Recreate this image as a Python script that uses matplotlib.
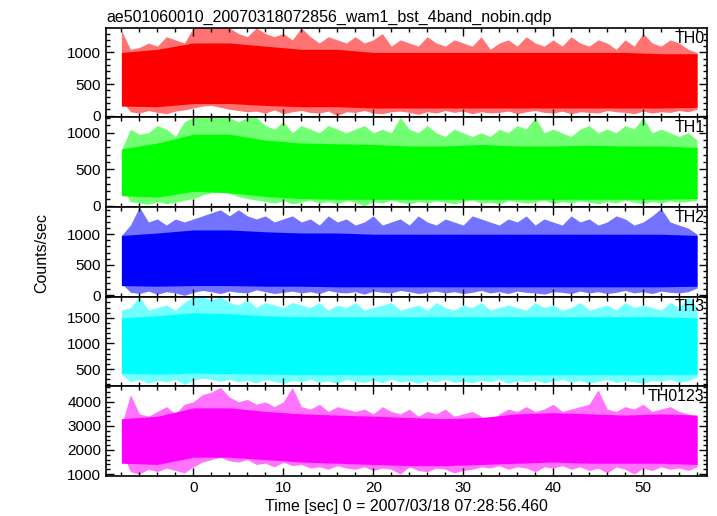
import numpy as np
import matplotlib
matplotlib.use("Agg")
import matplotlib.pyplot as plt
from matplotlib.ticker import MultipleLocator

plt.rcParams['font.family'] = ['Liberation Sans', 'DejaVu Sans']

title = "ae501060010_20070318072856_wam1_bst_4band_nobin.qdp"
xlabel = "Time [sec] 0 = 2007/03/18 07:28:56.460"
ylabel = "Counts/sec"

# 1 s envelope of the light curves (t = -8 ... 56)
t = np.arange(-8, 57, 1)
# 4 s grid for the dense core of each curve
tc = np.arange(-8, 57, 4)

th0_hi = [1350, 1050, 1080, 1150, 1100, 1250, 1200, 1150, 1390, 1390,
          1390, 1390, 1390, 1300, 1250, 1390, 1300, 1250, 1300, 1200,
          1390, 1250, 1150, 1250, 1200, 1150, 1250, 1150, 1200, 1300,
          1100, 1200, 1150, 1100, 1250, 1150, 1100, 1200, 1150, 1100,
          1250, 1050, 1150, 1200, 1100, 1250, 1150, 1100, 1200, 1100,
          1250, 1150, 1100, 1200, 1150, 1050, 1200, 1100, 1300, 1150,
          1100, 1200, 1150, 1050, 1000]
th0_lo = [250, 60, 40, 80, 50, 30, 70, 90, 120, 150,
          160, 130, 100, 80, 60, 70, 40, 90, 30, 60,
          80, 50, 40, 70, 0, 60, 50, 80, 40, 30,
          60, 70, 50, 20, 60, 40, 80, 50, 70, 30,
          60, 40, 50, 70, 30, 60, 80, 50, 40, 70,
          30, 60, 50, 40, 80, 60, 50, 30, 70, 40,
          60, 50, 80, 60, 100]
th0_core_hi = [1000, 1050, 1150, 1150, 1100, 1050, 1050, 1000, 1000, 1000, 1000, 1000, 1000, 1000, 1000, 980, 980]
th0_core_lo = [150, 140, 190, 190, 160, 140, 140, 120, 120, 120, 120, 120, 120, 120, 120, 120, 130]

th1_hi = [760, 1050, 980, 1000, 1100, 1050, 950, 1150, 1210, 1210,
          1210, 1210, 1210, 1150, 1210, 1210, 1100, 1050, 1150, 1000,
          1100, 1050, 1000, 1100, 1050, 1000, 1050, 1100, 1000, 1050,
          1000, 1210, 1050, 1000, 1100, 1000, 950, 1050, 1000, 950,
          1000, 950, 1050, 1000, 1100, 1050, 1210, 1000, 1050, 1000,
          950, 1050, 1100, 1000, 1050, 1000, 1100, 1050, 1210, 1000,
          1050, 1000, 950, 1000, 900]
th1_lo = [260, 60, 40, 20, 60, 30, 50, 80, 100, 150,
          180, 200, 170, 130, 100, 80, 60, 40, 70, 30,
          50, 80, 40, 60, 30, 70, 50, 0, 60, 40,
          80, 50, 30, 60, 40, 70, 50, 30, 60, 80,
          40, 50, 30, 70, 60, 40, 50, 80, 30, 60,
          40, 70, 50, 30, 60, 40, 80, 50, 30, 60,
          40, 70, 50, 60, 80]
th1_core_hi = [780, 860, 980, 980, 900, 860, 850, 840, 820, 820, 840, 820, 820, 830, 820, 820, 800]
th1_core_lo = [140, 120, 200, 180, 130, 100, 90, 90, 90, 90, 90, 90, 90, 90, 90, 90, 100]

th2_hi = [980, 1150, 1445, 1200, 1250, 1150, 1250, 1200, 1250, 1300,
          1350, 1400, 1300, 1400, 1300, 1250, 1300, 1200, 1250, 1300,
          1200, 1250, 1150, 1300, 1200, 1250, 1150, 1200, 1300, 1150,
          1200, 1250, 1150, 1300, 1200, 1150, 1250, 1200, 1150, 1300,
          1250, 1200, 1150, 1250, 1200, 1300, 1150, 1250, 1200, 1150,
          1300, 1200, 1250, 1150, 1200, 1300, 1250, 1150, 1200, 1300,
          1420, 1200, 1150, 1100, 1000]
th2_lo = [200, 50, 30, 70, 20, 60, 40, 0, 50, 80,
          60, 30, 70, 50, 40, 90, 60, 30, 50, 70,
          40, 60, 30, 80, 50, 40, 60, 20, 70, 50,
          40, 80, 60, 30, 50, 70, 40, 60, 30, 50,
          80, 40, 60, 30, 70, 50, 40, 20, 60, 50,
          30, 70, 40, 60, 30, 50, 80, 40, 60, 30,
          70, 50, 40, 60, 120]
th2_core_hi = [980, 1020, 1070, 1070, 1040, 1020, 1020, 1000, 1000, 1000, 1000, 1000, 1000, 1000, 1000, 1000, 980]
th2_core_lo = [160, 150, 160, 160, 150, 150, 140, 140, 140, 140, 140, 140, 140, 140, 140, 140, 150]

th3_hi = [1650, 1700, 1915, 1650, 1700, 1750, 1650, 1800, 1915, 1915,
          1850, 1915, 1800, 1750, 1850, 1700, 1800, 1750, 1700, 1800,
          1750, 1700, 1800, 1650, 1750, 1700, 1800, 1650, 1700, 1750,
          1800, 1650, 1700, 1750, 1650, 1800, 1700, 1650, 1750, 1700,
          1800, 1650, 1700, 1750, 1700, 1650, 1800, 1700, 1750, 1650,
          1700, 1800, 1650, 1700, 1750, 1650, 1800, 1700, 1750, 1700,
          1650, 1800, 1700, 1915, 1700]
th3_lo = [400, 250, 300, 220, 280, 250, 300, 200, 280, 320,
          300, 260, 300, 250, 280, 230, 300, 260, 220, 280,
          250, 300, 240, 270, 220, 300, 260, 240, 280, 230,
          300, 250, 270, 220, 280, 250, 300, 240, 260, 230,
          280, 250, 300, 220, 270, 250, 290, 230, 260, 300,
          240, 280, 220, 260, 300, 240, 270, 250, 220, 280,
          260, 300, 240, 270, 350]
th3_core_hi = [1500, 1540, 1600, 1580, 1540, 1520, 1520, 1520, 1520, 1520, 1520, 1520, 1520, 1520, 1520, 1520, 1500]
th3_core_lo = [420, 400, 420, 410, 400, 390, 390, 390, 390, 390, 390, 390, 390, 390, 390, 390, 400]

all_hi = [3000, 4300, 3500, 3400, 3600, 3800, 3500, 3900, 4000, 4300,
          4400, 4600, 4200, 4000, 4100, 3900, 4000, 3800, 4000, 4600,
          3800, 3700, 3900, 3600, 3800, 3700, 3600, 3700, 3500, 3800,
          3600, 3500, 3700, 3400, 3600, 3500, 3700, 3400, 3500, 3600,
          3400, 3000, 3500, 3700, 3600, 3800, 3600, 3700, 3900, 3600,
          3700, 3800, 3900, 4500, 3700, 3600, 3800, 3700, 3900, 3600,
          3700, 3800, 3600, 3500, 3400]
all_lo = [2000, 1100, 1000, 1200, 1100, 1250, 1150, 1050, 1300, 1500,
          1600, 1700, 1550, 1500, 1600, 1400, 1450, 1300, 1500, 1350,
          1400, 1250, 1300, 1200, 1350, 1250, 1200, 1300, 1150, 1250,
          1200, 1000, 1300, 1150, 1100, 1250, 1200, 1050, 1150, 1200,
          1300, 1250, 1350, 1200, 1300, 1250, 1100, 1300, 1250, 1350,
          1200, 1300, 1150, 1250, 1050, 1300, 1200, 1000, 1250, 1150,
          1300, 1200, 1250, 1150, 1300]
all_core_hi = [3300, 3400, 3750, 3750, 3600, 3500, 3450, 3400, 3350, 3300, 3350, 3500, 3550, 3500, 3450, 3500, 3450]
all_core_lo = [1450, 1400, 1700, 1700, 1600, 1500, 1450, 1400, 1350, 1350, 1400, 1450, 1500, 1450, 1450, 1450, 1400]

names = ["TH0", "TH1", "TH2", "TH3", "TH0123"]
colors = ["#ff0000", "#00ff00", "#0000ff", "#00ffff", "#ff00ff"]
his = [th0_hi, th1_hi, th2_hi, th3_hi, all_hi]
los = [th0_lo, th1_lo, th2_lo, th3_lo, all_lo]
core_his = [th0_core_hi, th1_core_hi, th2_core_hi, th3_core_hi, all_core_hi]
core_los = [th0_core_lo, th1_core_lo, th2_core_lo, th3_core_lo, all_core_lo]
ylims = [(-30, 1390), (-15, 1210), (-20, 1445), (165, 1915), (930, 4650)]
ymajor = [500, 500, 500, 500, 1000]
yminor = [100, 100, 100, 100, 200]


def main():
    fig, axes = plt.subplots(5, 1, sharex=True, figsize=(7.17, 5.16), dpi=100)
    fig.subplots_adjust(left=0.148, right=0.986, top=0.946, bottom=0.078, hspace=0)

    for i, ax in enumerate(axes):
        ax.fill_between(t, los[i], his[i], color=colors[i], alpha=0.55, lw=0)
        ax.fill_between(tc, core_los[i], core_his[i], color=colors[i], lw=0)
        ax.set_ylim(*ylims[i])
        ax.set_xlim(-9.7, 57.1)
        ax.yaxis.set_major_locator(MultipleLocator(ymajor[i]))
        ax.yaxis.set_minor_locator(MultipleLocator(yminor[i]))
        ax.xaxis.set_major_locator(MultipleLocator(10))
        ax.xaxis.set_minor_locator(MultipleLocator(2))
        ax.tick_params(which='both', direction='in', top=True, right=True,
                       labelsize=11, width=1)
        ax.tick_params(which='major', length=6)
        ax.tick_params(which='minor', length=3)
        for s in ax.spines.values():
            s.set_linewidth(1.2)
        ax.text(0.996, 0.97, names[i], transform=ax.transAxes, ha='right', va='top',
                fontsize=11.5)

    axes[0].set_title(title, loc='left', fontsize=11.5, pad=4)
    axes[-1].set_xlabel(xlabel, fontsize=11.5, labelpad=3)
    fig.text(0.058, 0.51, ylabel, rotation=90, ha='center', va='center', fontsize=11.5)

    fig.savefig("out.png", dpi=100)


if __name__ == "__main__":
    main()
